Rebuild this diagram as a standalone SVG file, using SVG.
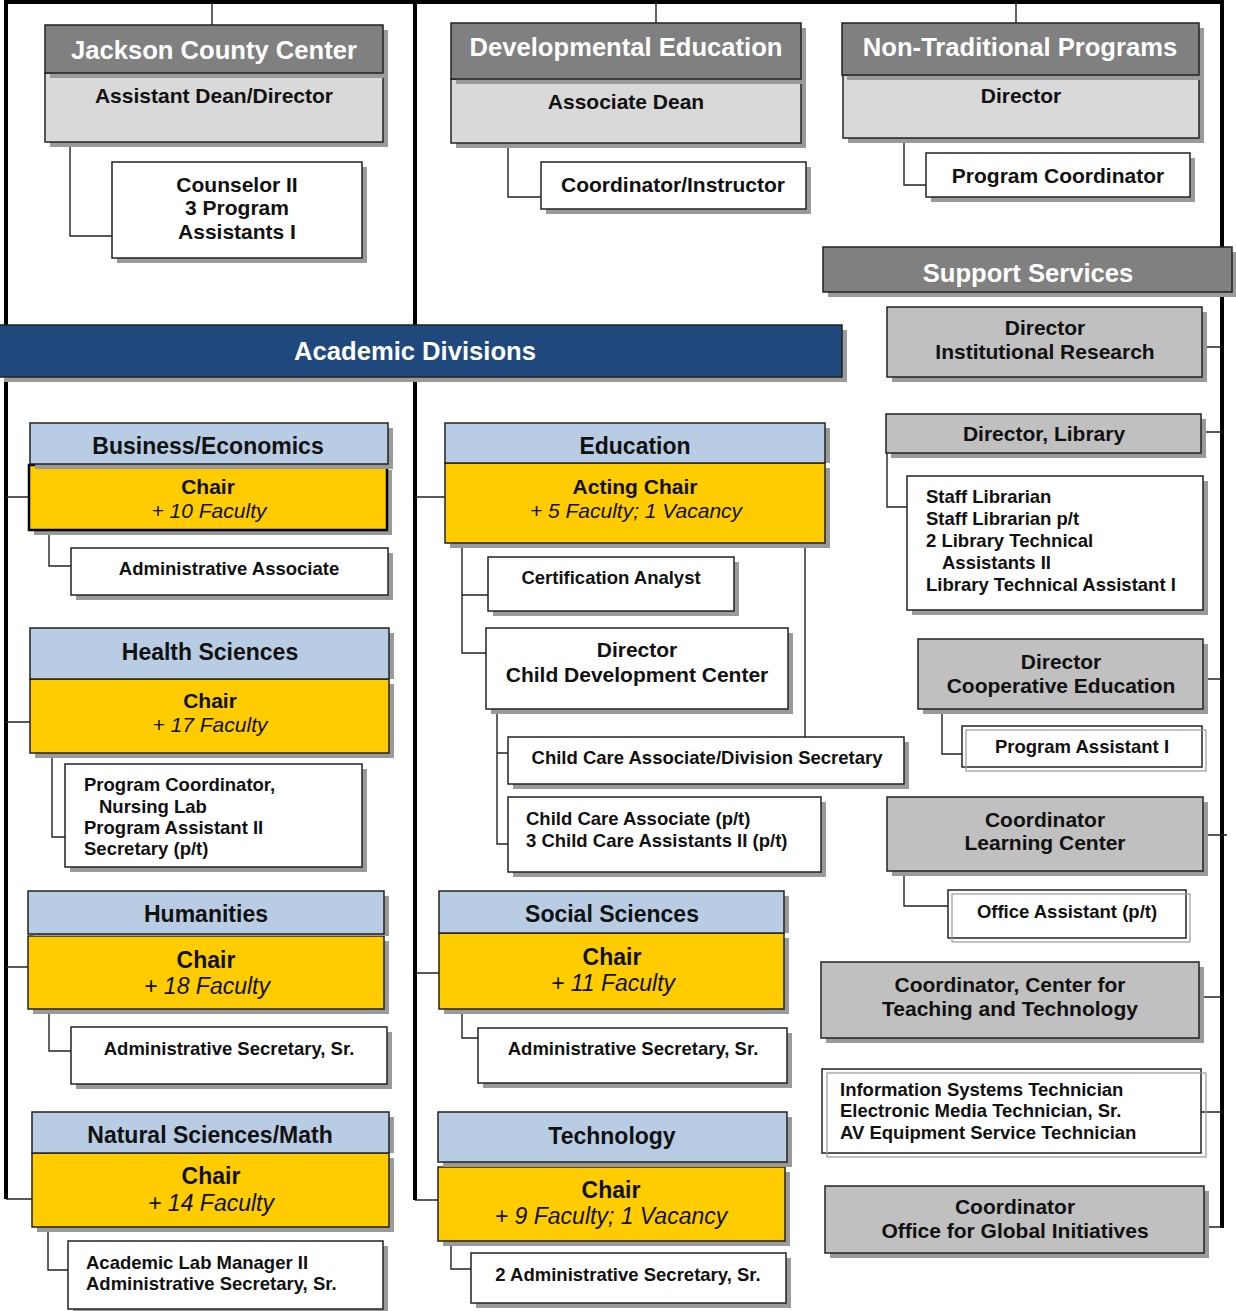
<svg xmlns="http://www.w3.org/2000/svg" width="1236" height="1311" viewBox="0 0 1236 1311">
<style>
text{font-family:"Liberation Sans",Arial,sans-serif;fill:#111;}
.h1{font-size:25.6px;font-weight:bold;fill:#fff;text-anchor:middle;}
.h2{font-size:23px;font-weight:bold;text-anchor:middle;}
.t21{font-size:21px;font-weight:bold;text-anchor:middle;}
.t23{font-size:23px;font-weight:bold;text-anchor:middle;}
.t18{font-size:18.5px;font-weight:bold;text-anchor:middle;}
.l18{font-size:18.5px;font-weight:bold;}
.it{font-size:21px;font-style:italic;text-anchor:middle;}
.it23{font-size:23px;font-style:italic;text-anchor:middle;}
.sh{fill:#9a9a9a;stroke:none;}
.dk{fill:#808080;stroke:#222;stroke-width:1.5;}
.lt{fill:#d9d9d9;stroke:#222;stroke-width:1.5;}
.gr{fill:#c0c0c0;stroke:#222;stroke-width:1.5;}
.bl{fill:#b8cce4;stroke:#222;stroke-width:1.5;}
.ye{fill:#ffcc00;stroke:#222;stroke-width:1.5;}
.wh{fill:#fff;stroke:#222;stroke-width:1.5;}
.wh2{fill:none;stroke:#999;stroke-width:1.2;}
.ad{fill:#1f497d;stroke:#222;stroke-width:1.5;}
.main{fill:none;stroke:#000;stroke-width:4;}
.c{fill:none;stroke:#222;stroke-width:1.4;}
</style>

<g id="connectors">
  <path class="main" d="M6,2 H1222 M6,0 V1199 M415,0 V1200 M1222,0 V1228"/>
  <path class="c" d="M212,2 V25 M656,2 V23 M1016,2 V23"/>
  <path class="c" d="M70,142 V236 H112 M508,143 V197 H541 M904,138 V185 H926"/>
  <path class="c" d="M6,497 H30 M6,722 H30 M6,967 H28 M6,1199 H32"/>
  <path class="c" d="M49,530 V566 H71 M52,753 V837 H65 M49,1009 V1051 H71 M48,1227 V1270 H68"/>
  <path class="c" d="M415,497 H445 M415,973 H439 M415,1200 H438"/>
  <path class="c" d="M462,543 V653 H486 M462,595 H488 M805,543 V737 M497,709 V844 H508 M497,753 H508"/>
  <path class="c" d="M462,1009 V1038 H478 M451,1241 V1269 H471"/>
  <path class="c" d="M1202,347 H1222 M1201,432 H1222 M1203,679 H1222 M1203,835 H1227 M1199,997 H1222 M1198,1112 H1222 M1204,1227 H1222"/>
  <path class="c" d="M887,453 V507 H907 M942,709 V754 H962 M904,871 V906 H948"/>
</g>

<g id="jackson">
  <rect class="sh" x="50" y="78" width="338" height="69"/>
  <rect class="lt" x="45" y="73" width="338" height="69"/>
  <rect class="sh" x="50" y="30" width="338" height="48"/>
  <rect class="dk" x="45" y="25" width="338" height="48"/>
  <text class="h1" x="214" y="59">Jackson County Center</text>
  <text class="t21" x="214" y="103">Assistant Dean/Director</text>
</g>
<g id="counselor">
  <rect class="sh" x="117" y="167" width="250" height="96"/>
  <rect class="wh" x="112" y="162" width="250" height="96"/>
  <text class="t21" x="237" y="192">Counselor II</text>
  <text class="t21" x="237" y="215">3 Program</text>
  <text class="t21" x="237" y="239">Assistants I</text>
</g>

<g id="deved">
  <rect class="sh" x="456" y="84" width="350" height="64"/>
  <rect class="lt" x="451" y="79" width="350" height="64"/>
  <rect class="sh" x="456" y="28" width="350" height="56"/>
  <rect class="dk" x="451" y="23" width="350" height="56"/>
  <text class="h1" x="626" y="56">Developmental Education</text>
  <text class="t21" x="626" y="109">Associate Dean</text>
</g>
<g id="coordinstr">
  <rect class="sh" x="546" y="167" width="265" height="47"/>
  <rect class="wh" x="541" y="162" width="265" height="47"/>
  <text class="t21" x="673" y="192">Coordinator/Instructor</text>
</g>

<g id="nontrad">
  <rect class="sh" x="848" y="80" width="356" height="63"/>
  <rect class="lt" x="843" y="75" width="356" height="63"/>
  <rect class="sh" x="847" y="28" width="357" height="52"/>
  <rect class="dk" x="842" y="23" width="357" height="52"/>
  <text class="h1" x="1020" y="56">Non-Traditional Programs</text>
  <text class="t21" x="1021" y="103">Director</text>
</g>
<g id="progcoord">
  <rect class="sh" x="931" y="158" width="264" height="44"/>
  <rect class="wh" x="926" y="153" width="264" height="44"/>
  <text class="t21" x="1058" y="183">Program Coordinator</text>
</g>

<g id="support">
  <rect class="sh" x="828" y="252" width="409" height="45"/>
  <rect class="dk" x="823" y="247" width="409" height="45"/>
  <text class="h1" x="1028" y="282">Support Services</text>
</g>

<g id="academic">
  <rect class="sh" x="4" y="330" width="843" height="52"/>
  <rect class="ad" x="-2" y="325" width="844" height="52"/>
  <text class="h1" x="415" y="360">Academic Divisions</text>
</g>

<g id="ir">
  <rect class="sh" x="892" y="312" width="315" height="70"/>
  <rect class="gr" x="887" y="307" width="315" height="70"/>
  <text class="t21" x="1045" y="335">Director</text>
  <text class="t21" x="1045" y="359">Institutional Research</text>
</g>
<g id="library">
  <rect class="sh" x="891" y="419" width="315" height="39"/>
  <rect class="gr" x="886" y="414" width="315" height="39"/>
  <text class="t21" x="1044" y="441">Director, Library</text>
</g>
<g id="libstaff">
  <rect class="sh" x="912" y="481" width="296" height="134"/>
  <rect class="wh" x="907" y="476" width="296" height="134"/>
  <text class="l18" x="926" y="503">Staff Librarian</text>
  <text class="l18" x="926" y="525">Staff Librarian p/t</text>
  <text class="l18" x="926" y="547">2 Library Technical</text>
  <text class="l18" x="942" y="569">Assistants II</text>
  <text class="l18" x="926" y="591">Library Technical Assistant I</text>
</g>
<g id="coop">
  <rect class="sh" x="923" y="644" width="285" height="70"/>
  <rect class="gr" x="918" y="639" width="285" height="70"/>
  <text class="t21" x="1061" y="669">Director</text>
  <text class="t21" x="1061" y="693">Cooperative Education</text>
</g>
<g id="pa1">
  <rect class="wh" x="962" y="726" width="240" height="41"/>
  <rect class="wh2" x="966" y="730" width="240" height="41"/>
  <text class="t18" x="1082" y="753">Program Assistant I</text>
</g>
<g id="learning">
  <rect class="sh" x="892" y="802" width="316" height="74"/>
  <rect class="gr" x="887" y="797" width="316" height="74"/>
  <text class="t21" x="1045" y="827">Coordinator</text>
  <text class="t21" x="1045" y="850">Learning Center</text>
</g>
<g id="officeasst">
  <rect class="wh" x="948" y="890" width="238" height="48"/>
  <rect class="wh2" x="952" y="894" width="238" height="48"/>
  <text class="t18" x="1067" y="918">Office Assistant (p/t)</text>
</g>
<g id="ctt">
  <rect class="sh" x="826" y="967" width="378" height="76"/>
  <rect class="gr" x="821" y="962" width="378" height="76"/>
  <text class="t21" x="1010" y="992">Coordinator, Center for</text>
  <text class="t21" x="1010" y="1016">Teaching and Technology</text>
</g>
<g id="techs">
  <rect class="wh" x="822" y="1069" width="379" height="84"/>
  <rect class="wh2" x="827" y="1073" width="379" height="84"/>
  <text class="l18" x="840" y="1096">Information Systems Technician</text>
  <text class="l18" x="840" y="1117">Electronic Media Technician, Sr.</text>
  <text class="l18" x="840" y="1139">AV Equipment Service Technician</text>
</g>
<g id="global">
  <rect class="sh" x="830" y="1191" width="379" height="67"/>
  <rect class="gr" x="825" y="1186" width="379" height="67"/>
  <text class="t21" x="1015" y="1214">Coordinator</text>
  <text class="t21" x="1015" y="1238">Office for Global Initiatives</text>
</g>

<g id="business">
  <rect class="sh" x="34" y="470" width="358" height="65"/>
  <rect class="ye" x="29" y="465" width="358" height="65" style="stroke:#000;stroke-width:2.5"/>
  <rect class="sh" x="35" y="428" width="358" height="41"/>
  <rect class="bl" x="30" y="423" width="358" height="41"/>
  <text class="h2" x="208" y="454">Business/Economics</text>
  <text class="t21" x="208" y="494">Chair</text>
  <text class="it" x="209" y="518">+ 10 Faculty</text>
</g>
<g id="adminassoc">
  <rect class="sh" x="76" y="553" width="317" height="47"/>
  <rect class="wh" x="71" y="548" width="317" height="47"/>
  <text class="t18" x="229" y="575">Administrative Associate</text>
</g>

<g id="health">
  <rect class="sh" x="35" y="684" width="359" height="74"/>
  <rect class="ye" x="30" y="679" width="359" height="74"/>
  <rect class="sh" x="35" y="633" width="359" height="46"/>
  <rect class="bl" x="30" y="628" width="359" height="51"/>
  <text class="h2" x="210" y="660">Health Sciences</text>
  <text class="t21" x="210" y="708">Chair</text>
  <text class="it" x="210" y="732">+ 17 Faculty</text>
</g>
<g id="healthstaff">
  <rect class="sh" x="70" y="769" width="297" height="103"/>
  <rect class="wh" x="65" y="764" width="297" height="103"/>
  <text class="l18" x="84" y="791">Program Coordinator,</text>
  <text class="l18" x="99" y="813">Nursing Lab</text>
  <text class="l18" x="84" y="834">Program Assistant II</text>
  <text class="l18" x="84" y="855">Secretary (p/t)</text>
</g>

<g id="humanities">
  <rect class="sh" x="33" y="941" width="356" height="73"/>
  <rect class="ye" x="28" y="936" width="356" height="73"/>
  <rect class="sh" x="33" y="896" width="356" height="40"/>
  <rect class="bl" x="28" y="891" width="356" height="43"/>
  <text class="h2" x="206" y="922">Humanities</text>
  <text class="t23" x="206" y="968">Chair</text>
  <text class="it23" x="207" y="994">+ 18 Faculty</text>
</g>
<g id="humsec">
  <rect class="sh" x="76" y="1032" width="316" height="57"/>
  <rect class="wh" x="71" y="1027" width="316" height="57"/>
  <text class="t18" x="229" y="1055">Administrative Secretary, Sr.</text>
</g>

<g id="natsci">
  <rect class="sh" x="37" y="1158" width="357" height="74"/>
  <rect class="ye" x="32" y="1153" width="357" height="74"/>
  <rect class="sh" x="37" y="1117" width="357" height="36"/>
  <rect class="bl" x="32" y="1112" width="357" height="41"/>
  <text class="h2" x="210" y="1143">Natural Sciences/Math</text>
  <text class="t23" x="211" y="1184">Chair</text>
  <text class="it23" x="211" y="1211">+ 14 Faculty</text>
</g>
<g id="natstaff">
  <rect class="sh" x="73" y="1246" width="315" height="68"/>
  <rect class="wh" x="68" y="1241" width="315" height="68"/>
  <text class="l18" x="86" y="1269">Academic Lab Manager II</text>
  <text class="l18" x="86" y="1290">Administrative Secretary, Sr.</text>
</g>

<g id="education">
  <rect class="sh" x="450" y="468" width="380" height="80"/>
  <rect class="ye" x="445" y="463" width="380" height="80"/>
  <rect class="sh" x="450" y="428" width="380" height="35"/>
  <rect class="bl" x="445" y="423" width="380" height="40"/>
  <text class="h2" x="635" y="454">Education</text>
  <text class="t21" x="635" y="494">Acting Chair</text>
  <text class="it" x="636" y="518">+ 5 Faculty; 1 Vacancy</text>
</g>
<g id="certanalyst">
  <rect class="sh" x="493" y="562" width="246" height="54"/>
  <rect class="wh" x="488" y="557" width="246" height="54"/>
  <text class="t18" x="611" y="584">Certification Analyst</text>
</g>
<g id="cdc">
  <rect class="sh" x="491" y="633" width="302" height="81"/>
  <rect class="wh" x="486" y="628" width="302" height="81"/>
  <text class="t21" x="637" y="657">Director</text>
  <text class="t21" x="637" y="682">Child Development Center</text>
</g>
<g id="ccadiv">
  <rect class="sh" x="513" y="742" width="396" height="47"/>
  <rect class="wh" x="508" y="737" width="396" height="47"/>
  <text class="t18" x="707" y="764">Child Care Associate/Division Secretary</text>
</g>
<g id="ccapt">
  <rect class="sh" x="513" y="802" width="313" height="75"/>
  <rect class="wh" x="508" y="797" width="313" height="75"/>
  <text class="l18" x="526" y="825">Child Care Associate (p/t)</text>
  <text class="l18" x="526" y="847">3 Child Care Assistants II (p/t)</text>
</g>

<g id="social">
  <rect class="sh" x="444" y="938" width="345" height="76"/>
  <rect class="ye" x="439" y="933" width="345" height="76"/>
  <rect class="sh" x="444" y="896" width="345" height="37"/>
  <rect class="bl" x="439" y="891" width="345" height="42"/>
  <text class="h2" x="612" y="922">Social Sciences</text>
  <text class="t23" x="612" y="965">Chair</text>
  <text class="it23" x="613" y="991">+ 11 Faculty</text>
</g>
<g id="socsec">
  <rect class="sh" x="483" y="1033" width="309" height="55"/>
  <rect class="wh" x="478" y="1028" width="309" height="55"/>
  <text class="t18" x="633" y="1055">Administrative Secretary, Sr.</text>
</g>

<g id="technology">
  <rect class="sh" x="443" y="1172" width="347" height="74"/>
  <rect class="ye" x="438" y="1167" width="347" height="74"/>
  <rect class="sh" x="443" y="1117" width="349" height="50"/>
  <rect class="bl" x="438" y="1112" width="349" height="50"/>
  <text class="h2" x="612" y="1144">Technology</text>
  <text class="t23" x="611" y="1198">Chair</text>
  <text class="it23" x="611" y="1224">+ 9 Faculty; 1 Vacancy</text>
</g>
<g id="techsec">
  <rect class="sh" x="476" y="1258" width="315" height="50"/>
  <rect class="wh" x="471" y="1253" width="315" height="50"/>
  <text class="t18" x="628" y="1281">2 Administrative Secretary, Sr.</text>
</g>
</svg>
